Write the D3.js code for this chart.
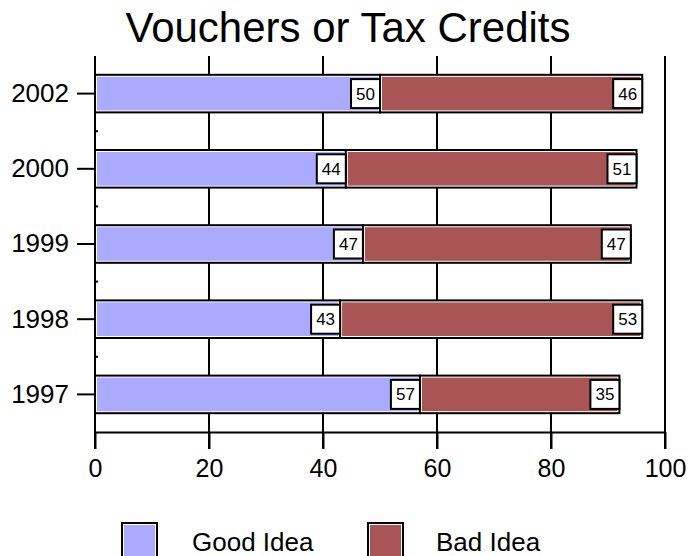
<!DOCTYPE html>
<html>
<head>
<meta charset="utf-8">
<script src="https://cdn.jsdelivr.net/npm/d3@7"></script>
<style>
  html, body { margin: 0; padding: 0; background: #fff; }
  svg { display: block; font-family: "Liberation Sans", Arial, sans-serif; }
</style>
</head>
<body>
<svg id="chart" width="690" height="556"></svg>
<script>
// Survey years, top to bottom
const years = ["2002", "2000", "1999", "1998", "1997"];
// Percent answering each way
const goodIdea = [50, 44, 47, 43, 57];
const badIdea = [46, 51, 47, 53, 35];
const seriesNames = ["Good Idea", "Bad Idea"];
const seriesColors = ["#aaaaff", "#aa5555"];
const xTicks = [0, 20, 40, 60, 80, 100];
const titleText = "Vouchers or Tax Credits";

const svg = d3.select("#chart");
const plotLeft = 95, plotRight = 665, plotTop = 56, plotBottom = 432;

const x = d3.scaleLinear().domain([0, 100]).range([plotLeft, plotRight]);
const y = d3.scaleBand().domain(years).range([plotTop, plotBottom])
  .paddingInner(0.5).paddingOuter(0.25);

const rows = years.map((yr, i) => ({ year: yr, good: goodIdea[i], bad: badIdea[i] }));

// Title
svg.append("text")
  .attr("x", 348).attr("y", 42)
  .attr("text-anchor", "middle")
  .attr("font-size", 42)
  .text(titleText);

// Vertical grid lines (they also serve as the x tick marks below the axis)
svg.append("g").selectAll("line").data(xTicks.slice(1)).join("line")
  .attr("x1", d => x(d)).attr("x2", d => x(d))
  .attr("y1", plotTop).attr("y2", plotBottom + 17)
  .attr("stroke", "#000").attr("stroke-width", 2);

// X axis
const xAxis = svg.append("g").attr("transform", `translate(0,${plotBottom})`)
  .call(d3.axisBottom(x).tickValues(xTicks).tickSize(17).tickPadding(10).tickSizeOuter(0));
xAxis.select(".domain").attr("stroke-width", 2);
xAxis.selectAll(".tick line").attr("stroke-width", 2);
xAxis.selectAll(".tick text").attr("font-size", 25).attr("fill", "#000")
  .attr("font-family", "Liberation Sans, Arial, sans-serif");

// Y axis
const yAxis = svg.append("g").attr("transform", `translate(${plotLeft},0)`)
  .call(d3.axisLeft(y).tickSize(18).tickPadding(8).tickSizeOuter(0));
yAxis.select(".domain").attr("stroke-width", 2)
  .attr("d", `M0,${plotTop}V${plotBottom + 17}`);
yAxis.selectAll(".tick line").attr("stroke-width", 2);
yAxis.selectAll(".tick text").attr("font-size", 26).attr("fill", "#000")
  .attr("font-family", "Liberation Sans, Arial, sans-serif");

// Small inward marks at the band boundaries
const step = y.step();
svg.append("g").selectAll("line").data(years.slice(1)).join("line")
  .attr("x1", plotLeft).attr("x2", plotLeft + 3)
  .attr("y1", d => y(d) - step * y.paddingInner() / 2)
  .attr("y2", d => y(d) - step * y.paddingInner() / 2)
  .attr("stroke", "#000").attr("stroke-width", 2);

// Draw a framed swatch: black outline, thin white line, then colour fill
function framed(g, x0, y0, w, h, color) {
  g.append("rect").attr("x", x0).attr("y", y0).attr("width", w).attr("height", h)
    .attr("fill", "#fff").attr("stroke", "#000").attr("stroke-width", 2);
  g.append("rect").attr("x", x0 + 2).attr("y", y0 + 2)
    .attr("width", Math.max(0, w - 4)).attr("height", Math.max(0, h - 4))
    .attr("fill", color);
}

const bars = svg.append("g");
rows.forEach(r => {
  const y0 = y(r.year), h = y.bandwidth();
  framed(bars, x(0), y0, x(r.good) - x(0), h, seriesColors[0]);
  framed(bars, x(r.good), y0, x(r.good + r.bad) - x(r.good), h, seriesColors[1]);
});

// Value boxes at the end of each segment
const boxW = 29, boxH = 29;
const labels = svg.append("g");
rows.forEach(r => {
  const cy = y(r.year) + y.bandwidth() / 2;
  [[r.good, r.good], [r.good + r.bad, r.bad]].forEach(([end, val]) => {
    const xr = x(end);
    labels.append("rect")
      .attr("x", xr - boxW).attr("y", cy - boxH / 2)
      .attr("width", boxW).attr("height", boxH)
      .attr("fill", "#fff").attr("stroke", "#000").attr("stroke-width", 2);
    labels.append("text")
      .attr("x", xr - boxW / 2).attr("y", cy + 6)
      .attr("text-anchor", "middle").attr("font-size", 17)
      .text(val);
  });
});

// Legend
const legend = svg.append("g");
const legendX = [122, 368];
const legendTextX = [192, 436];
seriesNames.forEach((name, i) => {
  framed(legend, legendX[i], 523, 35, 36, seriesColors[i]);
  legend.append("text")
    .attr("x", legendTextX[i]).attr("y", 551)
    .attr("font-size", 26)
    .text(name);
});
</script>
</body>
</html>
